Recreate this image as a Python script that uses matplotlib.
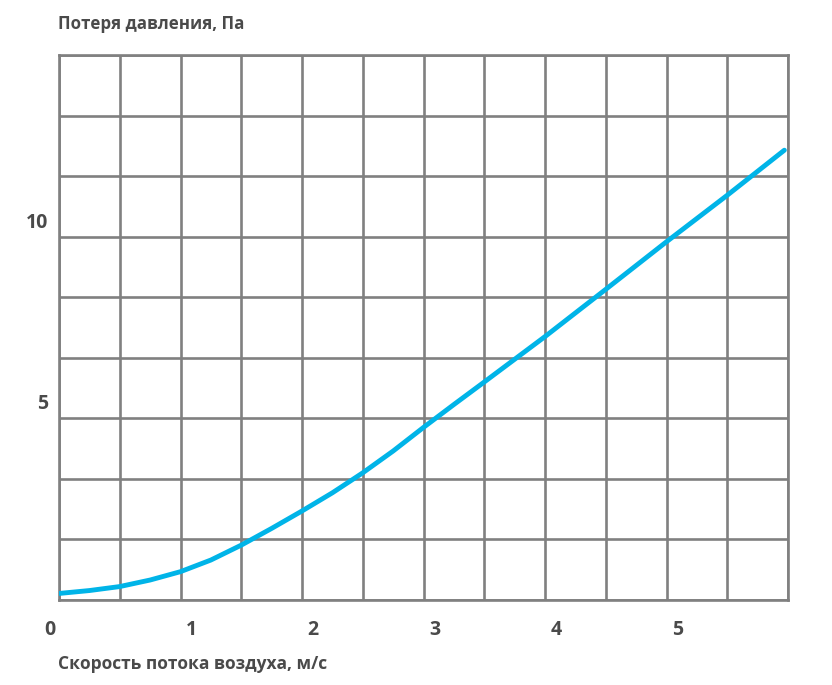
import numpy as np
import matplotlib
matplotlib.use("Agg")
from matplotlib import pyplot as plt
from matplotlib.transforms import ScaledTranslation

# air speed, m/s
speed = [0, 0.25, 0.5, 0.75, 1, 1.25, 1.5, 1.75, 2, 2.25, 2.5, 2.75, 3, 3.25,
         3.5, 4, 4.5, 5, 5.5, 5.97]
# pressure loss, Pa
loss = [0.18, 0.26, 0.37, 0.55, 0.78, 1.10, 1.51, 1.97, 2.45, 2.95, 3.50, 4.10, 4.75, 5.38,
        6.0, 7.25, 8.55, 9.86, 11.14, 12.38]

x_labels = [0, 1, 2, 3, 4, 5]
y_labels = [5, 10]

text_color = "#4a4a4a"
grid_color = "#808080"
line_color = "#00b4e8"
font = ["Open Sans", "DejaVu Sans"]

fig = plt.figure(figsize=(8.32, 6.85), dpi=100)
ax = fig.add_axes([59 / 832, 85 / 685, 729 / 832, 545 / 685])

ax.set_xlim(0, 6)
ax.set_ylim(0, 15)
ax.set_xticks(np.arange(0, 6.01, 0.5))
ax.set_yticks(np.arange(0, 15.01, 5 / 3))
ax.tick_params(length=0, labelbottom=False, labelleft=False)
ax.grid(True, color=grid_color, linewidth=1.9)
for spine in ax.spines.values():
    spine.set_color(grid_color)
    spine.set_linewidth(1.9)
ax.set_axisbelow(True)

ax.plot(speed, loss, color=line_color, linewidth=3.5, solid_capstyle="round",
        solid_joinstyle="round", zorder=3)

# tick labels sit a bit off the grid lines
for v in x_labels:
    dx = -9 if v == 0 else 11
    tr = ax.get_xaxis_transform() + ScaledTranslation(dx / 100, -30 / 100, fig.dpi_scale_trans)
    ax.text(v, 0, str(v), transform=tr, ha="center", va="center",
            fontsize=14, fontweight="bold", color=text_color, family=font)
for v in y_labels:
    tr = ax.transData + ScaledTranslation(-11 / 100, 14 / 100, fig.dpi_scale_trans)
    ax.text(0, v, str(v), transform=tr, ha="right", va="center",
            fontsize=14, fontweight="bold", color=text_color, family=font)

fig.text(58 / 832, 1 - 24 / 685, "Потеря давления, Па", ha="left", va="center",
         fontsize=12.2, fontweight="bold", color=text_color, family=font)
fig.text(58 / 832, 1 - 664 / 685, "Скорость потока воздуха, м/с", ha="left", va="center",
         fontsize=12.5, fontweight="bold", color=text_color, family=font)

fig.savefig("out.png", dpi=100, facecolor="white")
plt.close(fig)
